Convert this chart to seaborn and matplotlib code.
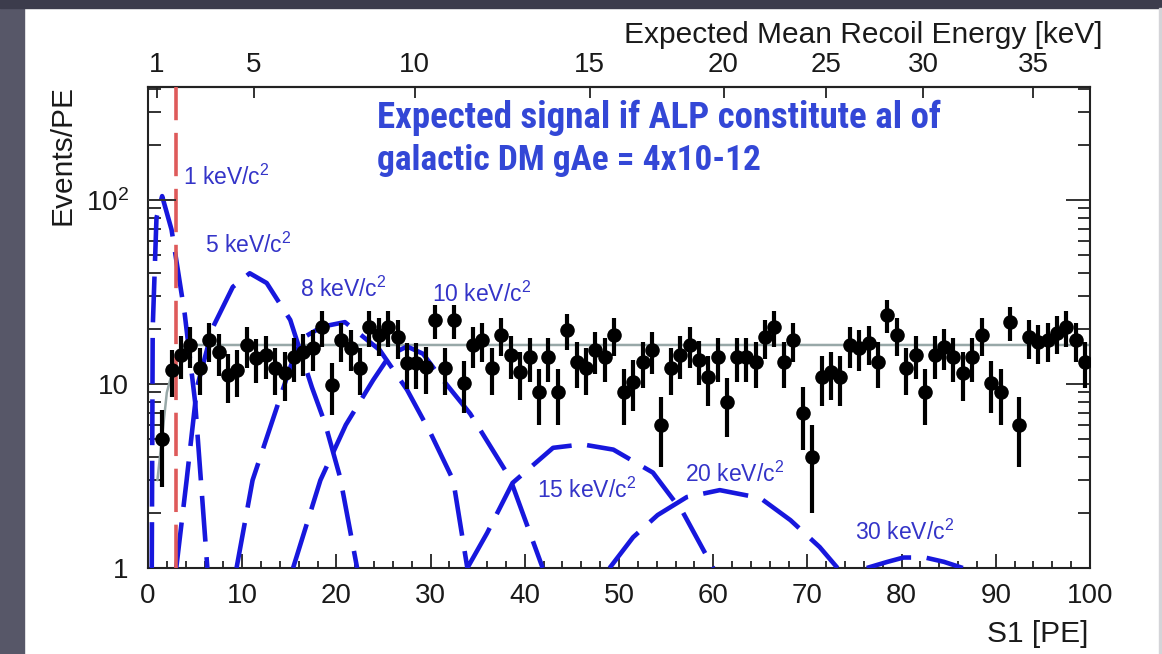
import numpy as np
import pandas as pd
import matplotlib
matplotlib.use("Agg")
import matplotlib.pyplot as plt
import seaborn as sns
from matplotlib import font_manager
from matplotlib.patches import Rectangle
from matplotlib.ticker import (MultipleLocator, LogLocator, FuncFormatter,
                               NullFormatter, NullLocator)

# ---------------- data ----------------
bin_centers = np.arange(1.5, 100.0, 1.0)          # S1 bin centres [PE]
counts = [5.0, 11.9, 14.4, 16.3, 12.2, 17.3, 14.9, 11.2, 11.9, 16.3,
          13.8, 14.4, 12.2, 11.5, 14.0, 14.9, 15.7, 20.4, 9.9, 17.3,
          15.7, 12.2, 20.4, 18.5, 20.4, 18.0, 13.0, 13.0, 12.4, 22.3,
          12.2, 22.3, 10.1, 16.3, 17.3, 12.2, 18.5, 14.4, 11.6, 14.0,
          9.0, 14.0, 9.0, 19.7, 13.2, 12.2, 15.3, 14.0, 18.5, 9.0,
          10.3, 13.2, 15.3, 6.0, 12.2, 14.4, 16.3, 13.5, 10.9, 14.0,
          8.0, 14.0, 14.0, 13.2, 18.0, 20.4, 13.2, 17.3, 7.0, 4.0,
          10.9, 11.6, 10.9, 16.3, 15.7, 16.7, 13.2, 23.7, 18.5, 12.2,
          14.4, 9.0, 14.4, 15.9, 14.0, 11.5, 14.0, 18.5, 10.1, 9.0,
          21.7, 6.0, 18.0, 16.9, 17.3, 19.0, 20.4, 17.3, 13.2]
count_errors = np.sqrt(counts)                     # Poisson error bars

bkg_s1 = [1.0, 2.0, 3.0, 4.0, 100.0]
bkg_rate = [3.0, 9.0, 14.0, 16.3, 16.3]

threshold_s1 = 3.0
threshold_top = 100.0

sig_1_s1 = [0.4, 0.5, 0.9, 1.5, 2.5, 3.9, 5.0, 6.3]
sig_1_y = [1.0, 20.0, 80.0, 105.0, 69.0, 24.0, 8.0, 1.0]
sig_5_s1 = [3.0, 4.1, 5.2, 6.9, 9.0, 10.8, 12.6, 15.1, 17.4, 18.8, 20.4, 22.2]
sig_5_y = [1.0, 3.0, 9.6, 20.4, 33.7, 40.0, 35.4, 22.3, 9.6, 6.1, 3.1, 1.0]
sig_8_s1 = [9.4, 11.1, 14.3, 16.1, 18.5, 20.9, 24.6, 27.5, 30.0, 32.4, 33.9]
sig_8_y = [1.0, 3.0, 9.3, 17.4, 20.5, 21.7, 15.3, 9.3, 5.4, 3.0, 1.0]
sig_10_s1 = [15.4, 18.3, 21.0, 23.9, 25.7, 27.5, 29.2, 30.7, 34.2, 38.4, 41.9]
sig_10_y = [1.0, 3.0, 6.0, 10.5, 14.4, 16.0, 14.6, 11.5, 6.9, 3.1, 1.0]
sig_15_s1 = [33.9, 36.0, 38.7, 43.0, 46.1, 49.4, 53.6, 56.8, 60.0]
sig_15_y = [1.0, 1.55, 2.9, 4.5, 4.7, 4.4, 3.3, 2.0, 1.0]
sig_20_s1 = [49.0, 51.5, 54.1, 57.2, 60.7, 65.0, 68.2, 71.3, 73.2]
sig_20_y = [1.0, 1.47, 1.94, 2.43, 2.65, 2.4, 1.82, 1.30, 1.0]
sig_30_s1 = [76.3, 78.5, 80.2, 82.5, 84.5, 86.5]
sig_30_y = [1.0, 1.08, 1.14, 1.14, 1.08, 1.0]

signal_labels = ["1 keV/c$^2$", "5 keV/c$^2$", "8 keV/c$^2$", "10 keV/c$^2$",
                 "15 keV/c$^2$", "20 keV/c$^2$", "30 keV/c$^2$"]
label_s1 = [3.7, 6.05, 16.1, 30.1, 41.3, 57.0, 75.05]
label_y = [120.6, 51.5, 29.7, 28.0, 2.40, 2.94, 1.42]

energy_ticks_kev = [1, 5, 10, 15, 20, 25, 30, 35]
energy_tick_s1 = [0.92, 11.2, 28.3, 46.9, 61.1, 72.0, 82.3, 94.0]

title_lines = ["Expected signal if ALP constitute al of",
               "galactic DM gAe = 4x10-12"]

# ---------------- style ----------------
sns.set_theme(style="ticks")
plt.rcParams['font.family'] = ['Liberation Sans', 'DejaVu Sans']
plt.rcParams['mathtext.fontset'] = 'custom'
plt.rcParams['mathtext.rm'] = 'Liberation Sans'
plt.rcParams['mathtext.it'] = 'Liberation Sans:italic'
plt.rcParams['mathtext.bf'] = 'Liberation Sans:bold'

names = {f.name for f in font_manager.fontManager.ttflist}
narrow = None
for cand in ['Liberation Sans Narrow', 'Roboto Condensed', 'Open Sans Condensed',
             'Noto Sans Condensed']:
    if cand in names:
        narrow = cand
        break
title_family = [narrow, 'DejaVu Sans'] if narrow else ['Liberation Sans', 'DejaVu Sans']

W, H = 1162, 654
fig = plt.figure(figsize=(W / 100, H / 100), dpi=100)
fig.patch.set_facecolor('white')
# slide frame
fig.add_artist(Rectangle((0, 0), 24 / W, 1, transform=fig.transFigure,
                         color='#575768', zorder=0))
fig.add_artist(Rectangle((0, 1 - 8 / H), 1, 8 / H, transform=fig.transFigure,
                         color='#3c3c4c', zorder=0))
fig.add_artist(Rectangle((1159 / W, 0), 3 / W, 1 - 8 / H, transform=fig.transFigure,
                         color='#d4d4d8', zorder=0))

ax = fig.add_axes([148 / W, 1 - 568 / H, 942 / W, 480.7 / H])
ax.set_facecolor('none')
ax.set_yscale('log')
ax.set_xlim(0, 100)
ax.set_ylim(1, 410)

blue = '#1717dd'
dash_kw = dict(color=blue, lw=3.3, linestyle=(0, (10, 3.4)), zorder=3)
for xs, ys in [(sig_1_s1, sig_1_y), (sig_5_s1, sig_5_y), (sig_8_s1, sig_8_y),
               (sig_10_s1, sig_10_y), (sig_15_s1, sig_15_y),
               (sig_20_s1, sig_20_y), (sig_30_s1, sig_30_y)]:
    sns.lineplot(x=xs, y=ys, ax=ax, sort=False, estimator=None, **dash_kw)

# background model
sns.lineplot(x=bkg_s1, y=bkg_rate, ax=ax, sort=False, estimator=None,
             color='#98a8a8', lw=1.8, zorder=2)

# threshold
ax.axvline(threshold_s1, color='#de5a5a', lw=2.6, linestyle=(0, (12, 3.5)), zorder=4)
ax.hlines(threshold_top, 0, threshold_s1, color='#333333', lw=1.4, zorder=4)

# data
ax.errorbar(bin_centers, counts, yerr=count_errors, fmt='none', ecolor='black',
            elinewidth=3.0, capsize=0, zorder=5)
sns.scatterplot(x=bin_centers, y=counts, ax=ax, color='black', s=110,
                edgecolor='black', linewidth=0, zorder=6)

# curve labels
for txt, xs, ys in zip(signal_labels, label_s1, label_y):
    ax.text(xs, ys, txt, color='#3434c8', fontsize=16.5, ha='left', va='baseline',
            zorder=7)

# title text
title_objs = []
for i, (line, yy) in enumerate(zip(title_lines, [0.9153, 0.828])):
    t = ax.text(0.243, yy, line, transform=ax.transAxes, fontsize=22,
                fontweight='bold', family=title_family, color='#3347d6',
                ha='left', va='baseline', zorder=7)
    title_objs.append(t)

# ---------------- axes ----------------
spine_col = '#222222'
for s in ax.spines.values():
    s.set_color(spine_col)
    s.set_linewidth(1.5)
    s.set_visible(True)

ax.xaxis.set_major_locator(MultipleLocator(10))
ax.xaxis.set_minor_locator(MultipleLocator(2))
ax.tick_params(axis='x', which='both', direction='in', bottom=True, top=False,
               labelsize=20, pad=11, color=spine_col, width=1.3, labelcolor='#1a1a1a')
ax.tick_params(axis='x', which='major', length=10)
ax.tick_params(axis='x', which='minor', length=5)

ax.yaxis.set_major_locator(LogLocator(base=10, subs=(1.0,)))
ax.yaxis.set_minor_locator(LogLocator(base=10, subs=np.arange(2, 10)))
ax.yaxis.set_minor_formatter(NullFormatter())
ylab = {1: '1', 10: '10', 100: '10$^2$'}
ax.yaxis.set_major_formatter(FuncFormatter(lambda v, p: ylab.get(int(round(v)), '')))
ax.tick_params(axis='y', which='both', direction='in', left=True, right=True,
               labelsize=20, pad=14, color=spine_col, width=1.3, labelcolor='#1a1a1a')
ax.tick_params(axis='y', which='major', length=17)
ax.tick_params(axis='y', which='minor', length=9)

ax.set_xlabel("S1 [PE]", loc='right', fontsize=21.5, color='#1a1a1a')
ax.xaxis.label.set_va('baseline')
ax.xaxis.set_label_coords(0.998, -0.1533)
ax.set_ylabel("Events/PE", loc='top', fontsize=21.5, color='#1a1a1a')
ax.yaxis.label.set_va('baseline')
ax.yaxis.set_label_coords(-0.0828, 1.005)

secax = ax.secondary_xaxis('top')
secax.set_xticks(energy_tick_s1, labels=[str(e) for e in energy_ticks_kev])
secax.xaxis.set_minor_locator(NullLocator())
secax.tick_params(axis='x', direction='in', length=8, width=1.3, labelsize=20,
                  pad=7, color=spine_col, labelcolor='#1a1a1a')
secax.spines['top'].set_linewidth(1.5)
secax.spines['top'].set_color(spine_col)
ax.text(1.0138, 1.092, "Expected Mean Recoil Energy [keV]", transform=ax.transAxes,
        ha='right', va='baseline', fontsize=21.5, color='#1a1a1a')

# fit the title lines to their measured widths
fig.canvas.draw()
r = fig.canvas.get_renderer()
for t, target in zip(title_objs, [563, 383]):
    w = t.get_window_extent(r).width
    t.set_fontsize(t.get_fontsize() * target / w)

fig.savefig("out.png", dpi=100, facecolor=fig.get_facecolor())
